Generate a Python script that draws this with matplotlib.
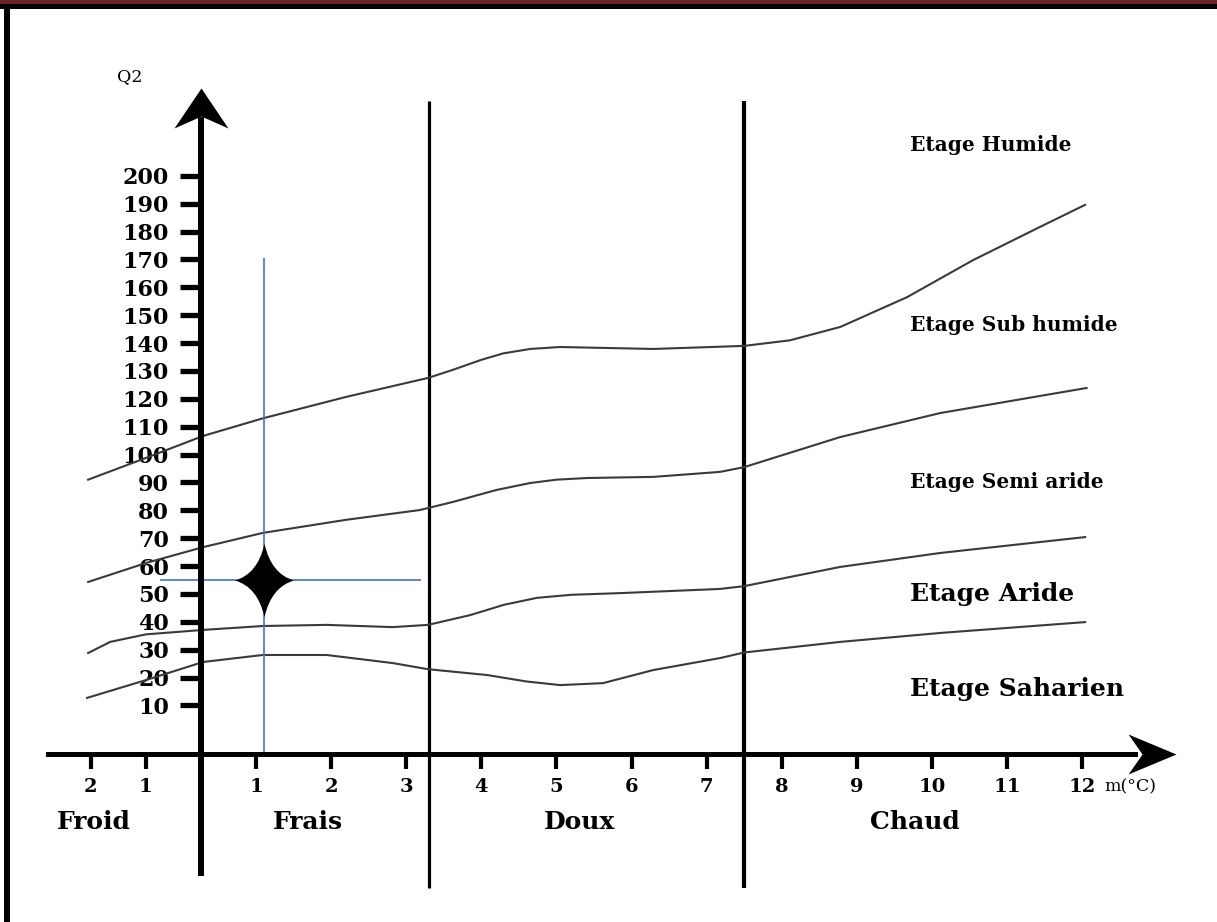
import numpy as np
import matplotlib
matplotlib.use('Agg')
import matplotlib.pyplot as plt
from matplotlib.path import Path
from matplotlib.patches import Rectangle

# Climagramme d'Emberger : Q2 en fonction de m (°C)

# --- valeurs ---
m_ticks = [-2, -1, 1, 2, 3, 4, 5, 6, 7, 8, 9, 10, 11, 12]
q2_ticks = list(range(10, 201, 10))

# limites entre les étages bioclimatiques
lim_humide_m = [-2.05, -1.0, 0.04, 1.09, 2.2, 3.29, 3.62, 4.0, 4.29, 4.65, 5.05, 6.29, 7.5, 8.11, 8.78, 9.67, 10.55, 11.44, 12.04]
lim_humide_q2 = [91, 98.8, 106.7, 113, 120.7, 127.5, 130.4, 134, 136.3, 137.9, 138.6, 137.9, 139, 141, 145.8, 156.5, 169.8, 181.7, 189.6]

lim_subhumide_m = [-2.05, -1.0, 0.04, 1.09, 2.2, 3.18, 3.62, 4.2, 4.65, 5.0, 5.41, 6.29, 7.18, 7.5, 8.78, 10.11, 12.06]
lim_subhumide_q2 = [54.3, 61.1, 66.8, 71.9, 76.6, 80.1, 83, 87.3, 89.8, 91.0, 91.6, 92, 93.8, 95.5, 106.3, 114.9, 123.9]

lim_semiaride_m = [-2.05, -1.65, -1.0, 0.04, 1.09, 1.94, 2.82, 3.29, 3.85, 4.3, 4.74, 5.2, 5.85, 7.18, 7.5, 8.78, 10.11, 12.04]
lim_semiaride_q2 = [28.8, 32.8, 35.5, 37.1, 38.5, 38.9, 38.1, 38.9, 42.4, 46.1, 48.6, 49.7, 50.3, 51.8, 52.8, 59.7, 64.7, 70.4]

lim_aride_m = [-2.07, -1.0, 0.04, 1.09, 1.94, 2.82, 3.29, 4.08, 4.6, 5.05, 5.62, 6.29, 7.18, 7.5, 8.78, 10.11, 12.04]
lim_aride_q2 = [12.7, 19.1, 25.6, 28.1, 28.1, 25.2, 23.0, 20.9, 18.6, 17.3, 18.0, 22.7, 27.0, 29.0, 32.8, 36.0, 39.9]

etages = ['Etage Humide', 'Etage Sub humide', 'Etage Semi aride', 'Etage Aride', 'Etage Saharien']
variantes = ['Froid', 'Frais', 'Doux', 'Chaud']
lim_variantes = [3.3, 7.5]

# station étudiée
station_m = 1.1
station_q2 = 55

plt.rcParams['font.family'] = 'DejaVu Serif'


# échelle de m : la partie sous 1 °C est resserrée comme sur l'original
def fwd(m):
    m = np.asarray(m, dtype=float)
    return np.where(m < 1, m * 0.733, m - 0.267)


def inv(u):
    u = np.asarray(u, dtype=float)
    return np.where(u < 0.733, u / 0.733, u + 0.267)


fig = plt.figure(figsize=(12.17, 9.22), dpi=100)
ax = fig.add_axes([0, 0, 1, 1])
ax.set_xscale('function', functions=(fwd, inv))
ax.set_xlim(-3.651, 13.796)
ax.set_ylim(-67.7, 263.1)
ax.patch.set_visible(False)

axe_x = -7.4  # hauteur de l'axe des m

# axes avec flèches
for s in ['top', 'right']:
    ax.spines[s].set_visible(False)
ax.spines['left'].set_position(('data', 0))
ax.spines['left'].set_bounds(-50, 220)
ax.spines['left'].set_linewidth(4.3)
ax.spines['bottom'].set_position(('data', axe_x))
ax.spines['bottom'].set_bounds(-2.78, 12.7)
ax.spines['bottom'].set_linewidth(3.6)

ax.set_yticks(q2_ticks)
ax.set_xticks(m_ticks)
ax.set_xticklabels([str(abs(v)) for v in m_ticks])
ax.tick_params(axis='y', direction='out', length=15, width=3.8, pad=8, labelsize=16)
ax.tick_params(axis='x', direction='out', length=11, width=3, pad=6, labelsize=14)
for lab in ax.get_xticklabels() + ax.get_yticklabels():
    lab.set_fontweight('bold')

fleche_haut = Path([(0, 0), (27, -40), (0, -28), (-27, -40), (0, 0)], closed=True)
fleche_droite = Path([(0, 0), (-48, 20), (-34, 0), (-48, -20), (0, 0)], closed=True)
ax.plot(0, 231.6, marker=fleche_haut, ms=57.6, color='black', mew=0, clip_on=False, zorder=4)
ax.plot(13.25, axe_x, marker=fleche_droite, ms=69, color='black', mew=0, clip_on=False, zorder=4)

# séparations verticales Froid / Frais / Doux / Chaud
ax.vlines(lim_variantes, -55.5, 227, colors='black', lw=[2.3, 3.0])

# courbes limites
for xs, ys in [(lim_humide_m, lim_humide_q2), (lim_subhumide_m, lim_subhumide_q2),
               (lim_semiaride_m, lim_semiaride_q2), (lim_aride_m, lim_aride_q2)]:
    ax.plot(xs, ys, color='#3a3a3a', lw=1.5, solid_joinstyle='round')

# position de la station
bleu = '#4472c4'
ax.vlines(station_m, axe_x, 170.5, colors=bleu, lw=1.2)
ax.hlines(station_q2, -0.75, 3.2, colors=bleu, lw=1.2)
c = 0.18
etoile = Path([(0, 1), (c, c), (0.8, 0), (c, -c), (0, -1),
               (-c, -c), (-0.8, 0), (-c, c), (0, 1), (0, 1)],
              [Path.MOVETO, Path.CURVE3, Path.CURVE3, Path.CURVE3, Path.CURVE3,
               Path.CURVE3, Path.CURVE3, Path.CURVE3, Path.CURVE3, Path.CLOSEPOLY])
ax.plot(station_m, station_q2, marker=etoile, ms=53, color='black', mew=0, zorder=5)

# textes
ax.text(-1.29, 235.5, 'Q2', fontsize=12.5, ha='center', va='center')
ax.text(12.3, -19.2, 'm(°C)', fontsize=12.5, ha='left', va='center')

etage_y = [211.1, 146.5, 90.2, 50.0, 15.9]
etage_fs = [14.5, 14.5, 14.5, 18, 18]
for nom, y, fs in zip(etages, etage_y, etage_fs):
    ax.text(9.71, y, nom, fontsize=fs, fontweight='bold', ha='left', va='center')

variante_x = [-1.94, 1.69, 5.31, 9.77]
for nom, x in zip(variantes, variante_x):
    ax.text(x, -31.7, nom, fontsize=18, fontweight='bold', ha='center', va='center')

# cadre de la page
fig.add_artist(Rectangle((0, 1 - 4 / 922), 1, 4 / 922, transform=fig.transFigure,
                         color='#6b2323', lw=0))
fig.add_artist(Rectangle((0, 1 - 9 / 922), 1, 5 / 922, transform=fig.transFigure,
                         color='black', lw=0))
fig.add_artist(Rectangle((4 / 1217, 0), 6 / 1217, 1 - 4 / 922, transform=fig.transFigure,
                         color='black', lw=0))

fig.savefig('out.png', dpi=100)
